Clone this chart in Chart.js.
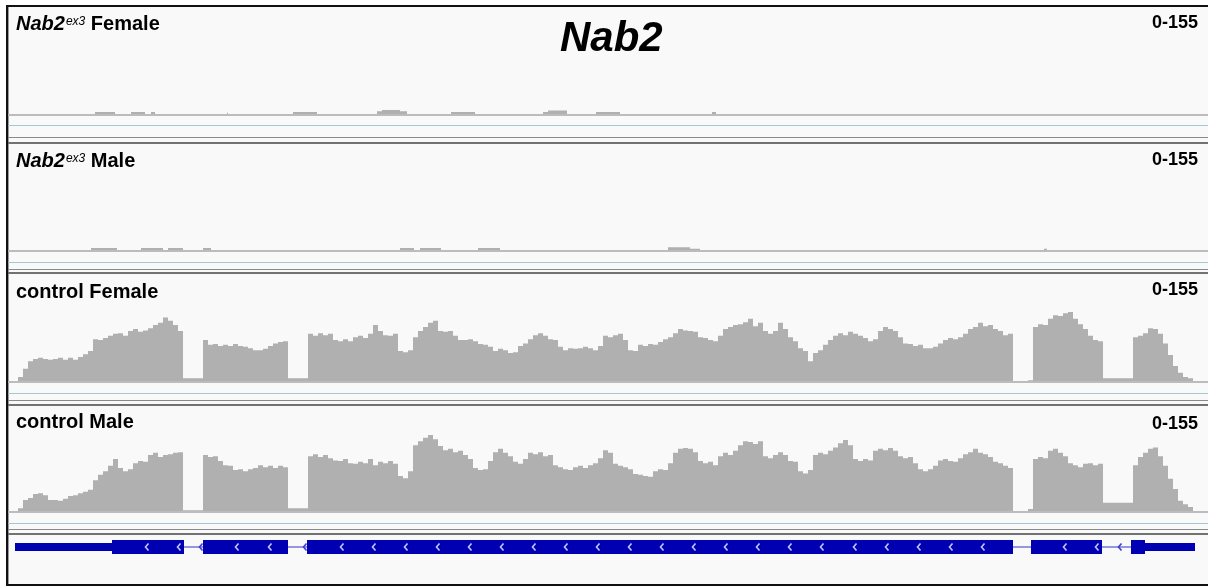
<!DOCTYPE html>
<html>
<head>
<meta charset="utf-8">
<title>Nab2 coverage</title>
<script src="https://cdn.jsdelivr.net/npm/chart.js@4.4.0/dist/chart.umd.min.js"></script>
<style>
  html, body { margin: 0; padding: 0; background: #fff; }
  body { width: 1208px; height: 586px; position: relative; overflow: hidden;
         font-family: "Liberation Sans", Arial, sans-serif; color: #000; }
  #frame { position: absolute; left: 6px; top: 5px; width: 1210px; height: 581px;
           box-sizing: border-box; border: 2px solid #111; background: #f9f9f9; }
  .hl { position: absolute; left: 8px; width: 1200px; height: 1px; }
  .vl { position: absolute; left: 8px; top: 7px; width: 1px; height: 577px; background: #9a9a9a; }
  canvas { position: absolute; left: 15px; }
  .label { position: absolute; left: 16px; font-size: 20px; font-weight: bold; line-height: 20px; white-space: nowrap; }
  .sup { font-size: 12px; font-style: italic; font-weight: normal; position: relative; top: -5px; margin-left: 1px; }
  .range { position: absolute; right: 10px; font-size: 18px; font-weight: bold; line-height: 18px; }
  #title { position: absolute; left: 560px; top: 16px; font-size: 42px; line-height: 42px; font-weight: bold; font-style: italic; }
</style>
</head>
<body>
<div id="frame"></div>
<div class="vl"></div>
<div id="lines"></div>

<canvas id="mutFemale" width="1180" height="106" style="top:8px"></canvas>
<canvas id="mutMale" width="1180" height="106" style="top:144px"></canvas>
<canvas id="ctlFemale" width="1180" height="106" style="top:275px"></canvas>
<canvas id="ctlMale" width="1180" height="106" style="top:405px"></canvas>
<canvas id="gene" width="1180" height="20" style="top:537px"></canvas>

<div id="title">Nab2</div>
<div class="label" style="top:13px"><i>Nab2</i><span class="sup">ex3</span> Female</div>
<div class="label" style="top:150px"><i>Nab2</i><span class="sup">ex3</span> Male</div>
<div class="label" style="top:281px">control Female</div>
<div class="label" style="top:411px">control Male</div>
<div class="range" id="r1" style="top:13px"></div>
<div class="range" id="r2" style="top:150px"></div>
<div class="range" id="r3" style="top:280px"></div>
<div class="range" id="r4" style="top:414px"></div>

<script>
// locus coordinates run 0..locusLength; coverage is binned
var locusLength = 1180;
var binStart = 3;
var binWidth = 5;
var dataRange = [0, 155];

var controlFemale = [
  6, 18, 29, 32, 34, 32, 31, 32, 34, 31,
  34, 31, 35, 39, 44, 61, 60, 63, 66, 69,
  70, 66, 73, 76, 72, 74, 77, 82, 85, 93,
  88, 82, 73, 4, 4, 4, 4, 60, 53, 54,
  51, 53, 51, 54, 51, 50, 48, 45, 45, 47,
  51, 55, 57, 58, 4, 4, 4, 4, 69, 66,
  70, 67, 69, 60, 58, 61, 58, 64, 66, 63,
  69, 82, 73, 67, 66, 69, 44, 42, 45, 64,
  73, 79, 85, 88, 73, 72, 73, 66, 60, 60,
  61, 58, 54, 53, 50, 44, 47, 45, 41, 42,
  51, 55, 61, 67, 70, 66, 61, 60, 50, 45,
  48, 47, 48, 50, 48, 45, 51, 66, 64, 67,
  69, 60, 45, 44, 53, 51, 54, 53, 57, 61,
  64, 70, 76, 74, 73, 72, 64, 63, 60, 58,
  66, 76, 79, 82, 83, 86, 91, 80, 85, 73,
  69, 73, 85, 76, 64, 58, 48, 44, 29, 41,
  45, 53, 60, 66, 70, 67, 72, 69, 66, 63,
  58, 61, 73, 79, 76, 73, 64, 55, 54, 51,
  53, 48, 48, 50, 55, 60, 63, 61, 64, 69,
  76, 79, 85, 80, 82, 76, 73, 67, 69, 0,
  0, 0, 1, 79, 83, 82, 91, 96, 95, 99,
  101, 91, 83, 76, 66, 60, 58, 4, 4, 4,
  4, 4, 4, 64, 66, 70, 77, 76, 69, 55,
  38, 22, 12, 6, 4
];

var controlMale = [
  4, 16, 19, 25, 26, 23, 16, 16, 15, 18,
  22, 23, 26, 28, 31, 45, 53, 58, 66, 76,
  63, 58, 61, 70, 73, 72, 82, 85, 79, 82,
  83, 85, 86, 1, 1, 1, 1, 82, 79, 80,
  73, 67, 66, 60, 61, 58, 61, 63, 67, 64,
  66, 63, 66, 64, 4, 4, 4, 4, 80, 83,
  79, 82, 77, 74, 73, 76, 70, 69, 72, 70,
  76, 67, 72, 70, 73, 69, 51, 48, 58, 96,
  102, 107, 111, 105, 95, 89, 91, 86, 88, 82,
  76, 63, 60, 61, 73, 86, 91, 85, 80, 72,
  69, 76, 85, 83, 86, 80, 82, 67, 64, 61,
  60, 64, 66, 63, 67, 70, 77, 89, 85, 69,
  66, 64, 61, 54, 53, 51, 50, 58, 61, 60,
  70, 85, 91, 92, 91, 86, 73, 70, 72, 67,
  80, 85, 82, 88, 96, 102, 101, 98, 102, 80,
  77, 82, 86, 82, 73, 72, 58, 55, 60, 82,
  85, 83, 88, 93, 99, 104, 96, 76, 73, 76,
  74, 88, 91, 89, 92, 88, 80, 77, 79, 70,
  61, 58, 61, 66, 74, 76, 73, 72, 77, 83,
  86, 91, 85, 83, 79, 72, 70, 66, 63, 0,
  0, 0, 3, 76, 79, 77, 88, 91, 85, 80,
  70, 67, 64, 69, 70, 67, 69, 12, 12, 12,
  12, 12, 12, 67, 79, 85, 91, 93, 80, 66,
  47, 32, 15, 10, 6
];

// sparse reads in the mutant samples: start, end, depth
var mutFemaleStart = [80, 116, 136, 212, 278, 362, 367, 385, 436, 528, 533, 581, 697];
var mutFemaleEnd   = [100, 130, 140, 213, 302, 367, 385, 392, 460, 533, 552, 605, 701];
var mutFemaleDepth = [3, 3, 3, 2, 3, 4, 6, 4, 3, 3, 5, 3, 3];

var mutMaleStart = [76, 126, 153, 188, 385, 405, 463, 653, 675, 1029];
var mutMaleEnd   = [102, 148, 168, 196, 399, 426, 485, 675, 685, 1032];
var mutMaleDepth = [3, 3, 3, 3, 3, 3, 3, 4, 2, 2];

// gene model (minus strand)
var utrStart = [0, 1130];
var utrEnd = [97, 1180];
var exonStart = [97, 188, 292, 1016, 1116];
var exonEnd = [169, 273, 998, 1087, 1130];
var intronStart = [169, 273, 998, 1087];
var intronEnd = [188, 292, 1016, 1116];
var exonArrows = [132, 164, 222, 255, 327, 359, 391, 423, 455, 487, 519, 551, 583, 615, 647,
                  679, 711, 743, 775, 807, 840, 872, 904, 936, 968, 1050, 1082];
var intronArrows = [186, 290, 1105];

var trackLines = [
  [114, '#bcbcbc', 2], [125, '#a6c6d2', 1], [137, '#8a8a8a', 1], [142, '#727272', 2],
  [250, '#bcbcbc', 2], [262, '#a6c6d2', 1], [269, '#8a8a8a', 1], [272, '#727272', 2],
  [381, '#bcbcbc', 2], [393, '#a6c6d2', 1], [400, '#8a8a8a', 1], [404, '#727272', 2],
  [511, '#bcbcbc', 2], [523, '#a6c6d2', 1], [529, '#8a8a8a', 1], [533, '#727272', 2]
];
var holder = document.getElementById('lines');
trackLines.forEach(function(l) {
  var d = document.createElement('div');
  d.className = 'hl';
  d.style.top = l[0] + 'px';
  d.style.background = l[1];
  d.style.height = l[2] + 'px';
  holder.appendChild(d);
});

['r1', 'r2', 'r3', 'r4'].forEach(function(id) {
  document.getElementById(id).textContent = dataRange[0] + '-' + dataRange[1];
});

function binPoints(values) {
  var pts = values.map(function(v, i) { return { x: binStart + i * binWidth, y: v }; });
  pts.push({ x: binStart + values.length * binWidth, y: 0 });
  return pts;
}

function segmentPoints(starts, ends, depths) {
  var pts = [];
  starts.forEach(function(s, i) {
    pts.push({ x: s, y: depths[i] });
    pts.push({ x: ends[i], y: 0 });
  });
  return pts;
}

// no padding anywhere, so every track shares the same pixel mapping
var quiet = {
  responsive: false,
  animation: false,
  events: [],
  layout: { padding: 0, autoPadding: false },
  plugins: { legend: { display: false }, tooltip: { enabled: false } }
};

function coverageChart(id, points) {
  return new Chart(document.getElementById(id), {
    type: 'line',
    data: {
      datasets: [{
        data: points,
        stepped: true,
        fill: 'origin',
        backgroundColor: '#b0b0b0',
        borderColor: 'rgba(0,0,0,0)',
        borderWidth: 0,
        pointRadius: 0
      }]
    },
    options: Object.assign({}, quiet, {
      scales: {
        x: { type: 'linear', min: 0, max: locusLength, display: false },
        y: { min: dataRange[0], max: dataRange[1], display: false }
      }
    })
  });
}

coverageChart('mutFemale', segmentPoints(mutFemaleStart, mutFemaleEnd, mutFemaleDepth));
coverageChart('mutMale', segmentPoints(mutMaleStart, mutMaleEnd, mutMaleDepth));
coverageChart('ctlFemale', binPoints(controlFemale));
coverageChart('ctlMale', binPoints(controlMale));

// "<" strand marker used as a point style
function chevron(color) {
  var c = document.createElement('canvas');
  c.width = 6;
  c.height = 10;
  var g = c.getContext('2d');
  g.strokeStyle = color;
  g.lineWidth = 1.6;
  g.beginPath();
  g.moveTo(4.5, 1.5);
  g.lineTo(1.5, 5);
  g.lineTo(4.5, 8.5);
  g.stroke();
  return c;
}

// each feature becomes its own line piece; a null point breaks the line
function pieces(starts, ends) {
  var pts = [];
  starts.forEach(function(s, i) {
    pts.push({ x: s, y: 0 }, { x: ends[i], y: 0 }, { x: ends[i], y: null });
  });
  return pts;
}

function marks(xs) {
  return xs.map(function(x) { return { x: x, y: 0 }; });
}

new Chart(document.getElementById('gene'), {
  type: 'line',
  data: {
    datasets: [
      { order: 0, data: marks(exonArrows), showLine: false, pointStyle: chevron('#c4c4ff'), pointRadius: 3 },
      { order: 1, data: marks(intronArrows), showLine: false, pointStyle: chevron('#3b3bd6'), pointRadius: 3 },
      { order: 2, data: pieces(exonStart, exonEnd), borderColor: 'rgb(0,0,178)', borderWidth: 14,
        borderCapStyle: 'butt', pointRadius: 0, spanGaps: false },
      { order: 3, data: pieces(utrStart, utrEnd), borderColor: 'rgb(0,0,178)', borderWidth: 8,
        borderCapStyle: 'butt', pointRadius: 0, spanGaps: false },
      { order: 4, data: pieces(intronStart, intronEnd), borderColor: 'rgb(50,50,200)', borderWidth: 1,
        borderCapStyle: 'butt', pointRadius: 0, spanGaps: false }
    ]
  },
  options: Object.assign({}, quiet, {
    scales: {
      x: { type: 'linear', min: 0, max: locusLength, display: false },
      y: { type: 'linear', min: -1, max: 1, display: false }
    }
  })
});
</script>
</body>
</html>
